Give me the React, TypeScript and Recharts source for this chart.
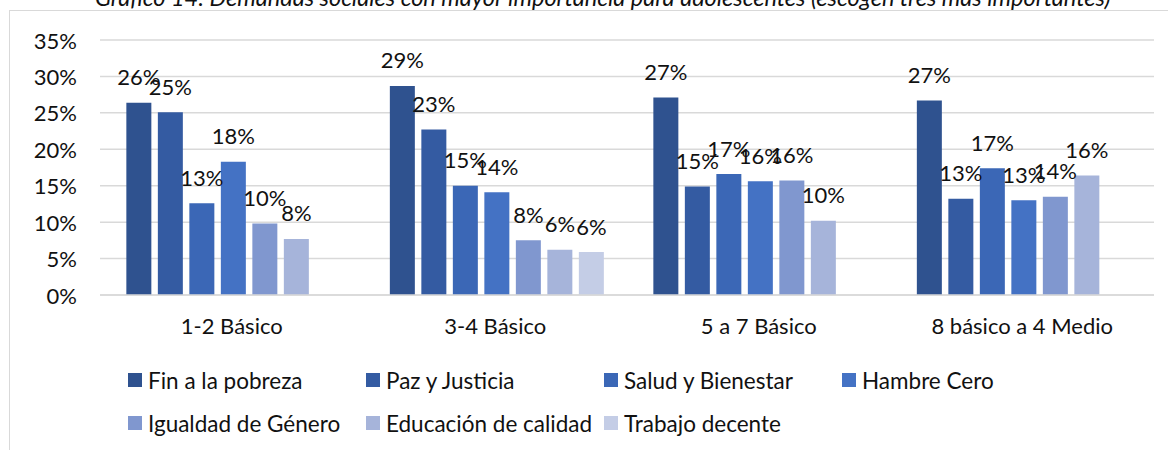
import React from "react";
import { BarChart, Bar, XAxis, YAxis, CartesianGrid, LabelList } from "recharts";

const categories = ["1-2 Básico", "3-4 Básico", "5 a 7 Básico", "8 básico a 4 Medio"];

const seriesNames = [
  "Fin a la pobreza",
  "Paz y Justicia",
  "Salud y Bienestar",
  "Hambre Cero",
  "Igualdad de Género",
  "Educación de calidad",
  "Trabajo decente",
];

// values in % per category (null = no bar)
const finPobreza = [26.4, 28.7, 27.1, 26.7];
const pazJusticia = [25.1, 22.7, 14.9, 13.2];
const saludBienestar = [12.6, 15.0, 16.6, 17.4];
const hambreCero = [18.3, 14.1, 15.6, 13.0];
const igualdadGenero = [9.8, 7.5, 15.7, 13.5];
const educacionCalidad = [7.7, 6.2, 10.2, 16.4];
const trabajoDecente = [null, 5.9, null, null];

const yTicks = [0, 5, 10, 15, 20, 25, 30, 35];

const seriesValues = [
  finPobreza,
  pazJusticia,
  saludBienestar,
  hambreCero,
  igualdadGenero,
  educacionCalidad,
  trabajoDecente,
];

const colors = ["#2F528F", "#345BA2", "#3B67B6", "#4472C4", "#8097CF", "#A6B4DA", "#C4CDE6"];

const data = categories.map((cat, i) => {
  const row: any = { cat };
  seriesValues.forEach((vals, s) => {
    row["s" + s] = vals[i];
  });
  return row;
});

const FONT = "Lato, 'Open Sans', sans-serif";

const XTick = ({ x, y, payload }: any) => (
  <text x={x} y={y + 30} textAnchor="middle" dominantBaseline="central" fontSize={22} fill="#111" fontFamily={FONT}>
    {payload.value}
  </text>
);

const YTick = ({ x, y, payload }: any) => (
  <text x={x} y={y} textAnchor="end" dominantBaseline="central" fontSize={22} fill="#111" fontFamily={FONT}>
    {payload.value}%
  </text>
);

const ValueLabel = ({ x, y, width, value }: any) => {
  if (value === null || value === undefined) return null;
  return (
    <text
      x={x + width / 2}
      y={y - 26}
      textAnchor="middle"
      dominantBaseline="central"
      fontSize={22}
      fill="#111"
      fontFamily={FONT}
    >
      {Math.round(value)}%
    </text>
  );
};

export default function App() {
  return (
    <div style={{ position: "absolute", left: 0, top: 0, width: 1168, height: 450, overflow: "hidden", background: "#fff", fontFamily: FONT }}>
      {/* title (cut at top) + chart frame */}
      <svg width={1168} height={450} style={{ position: "absolute", left: 0, top: 0 }}>
        <text x={95} y={6} fontSize={23.5} fontStyle="italic" fill="#111" fontFamily={FONT}>
          Gráfico 14: Demandas sociales con mayor importancia para adolescentes (escogen tres más importantes)
        </text>
        <line x1={9.5} y1={10} x2={9.5} y2={450} stroke="#D9D9D9" strokeWidth={1} />
        <line x1={9} y1={10.5} x2={1168} y2={10.5} stroke="#D9D9D9" strokeWidth={1} />
      </svg>

      <div style={{ position: "absolute", left: 0, top: 0 }}>
        <BarChart
          width={1168}
          height={450}
          data={data}
          margin={{ top: 40, right: 14, bottom: 115, left: 0 }}
          barCategoryGap="10%"
          barGap={6.5}
        >
          <CartesianGrid vertical={false} stroke="#D9D9D9" strokeWidth={1.5} />
          <XAxis
            dataKey="cat"
            height={40}
            axisLine={{ stroke: "#D9D9D9", strokeWidth: 1.5 }}
            tickLine={false}
            tickSize={0}
            tickMargin={0}
            tick={<XTick />}
            interval={0}
          />
          <YAxis
            width={100}
            domain={[0, 35]}
            ticks={yTicks}
            axisLine={false}
            tickLine={false}
            tickSize={0}
            tickMargin={23}
            tick={<YTick />}
          />
          {seriesNames.map((name, s) => (
            <Bar key={name} dataKey={"s" + s} name={name} fill={colors[s]} isAnimationActive={false}>
              <LabelList dataKey={"s" + s} content={<ValueLabel />} />
            </Bar>
          ))}
        </BarChart>
      </div>

      {/* legend */}
      <div
        style={{
          position: "absolute",
          left: 128,
          top: 366,
          width: 960,
          display: "flex",
          flexWrap: "wrap",
          rowGap: 15,
        }}
      >
        {seriesNames.map((name, s) => (
          <div key={name} style={{ width: 238, height: 28, display: "flex", alignItems: "center" }}>
            <span style={{ width: 14, height: 14, background: colors[s], marginRight: 6, flexShrink: 0 }} />
            <span style={{ fontSize: 22.5, color: "#111", whiteSpace: "nowrap" }}>{name}</span>
          </div>
        ))}
      </div>
    </div>
  );
}
